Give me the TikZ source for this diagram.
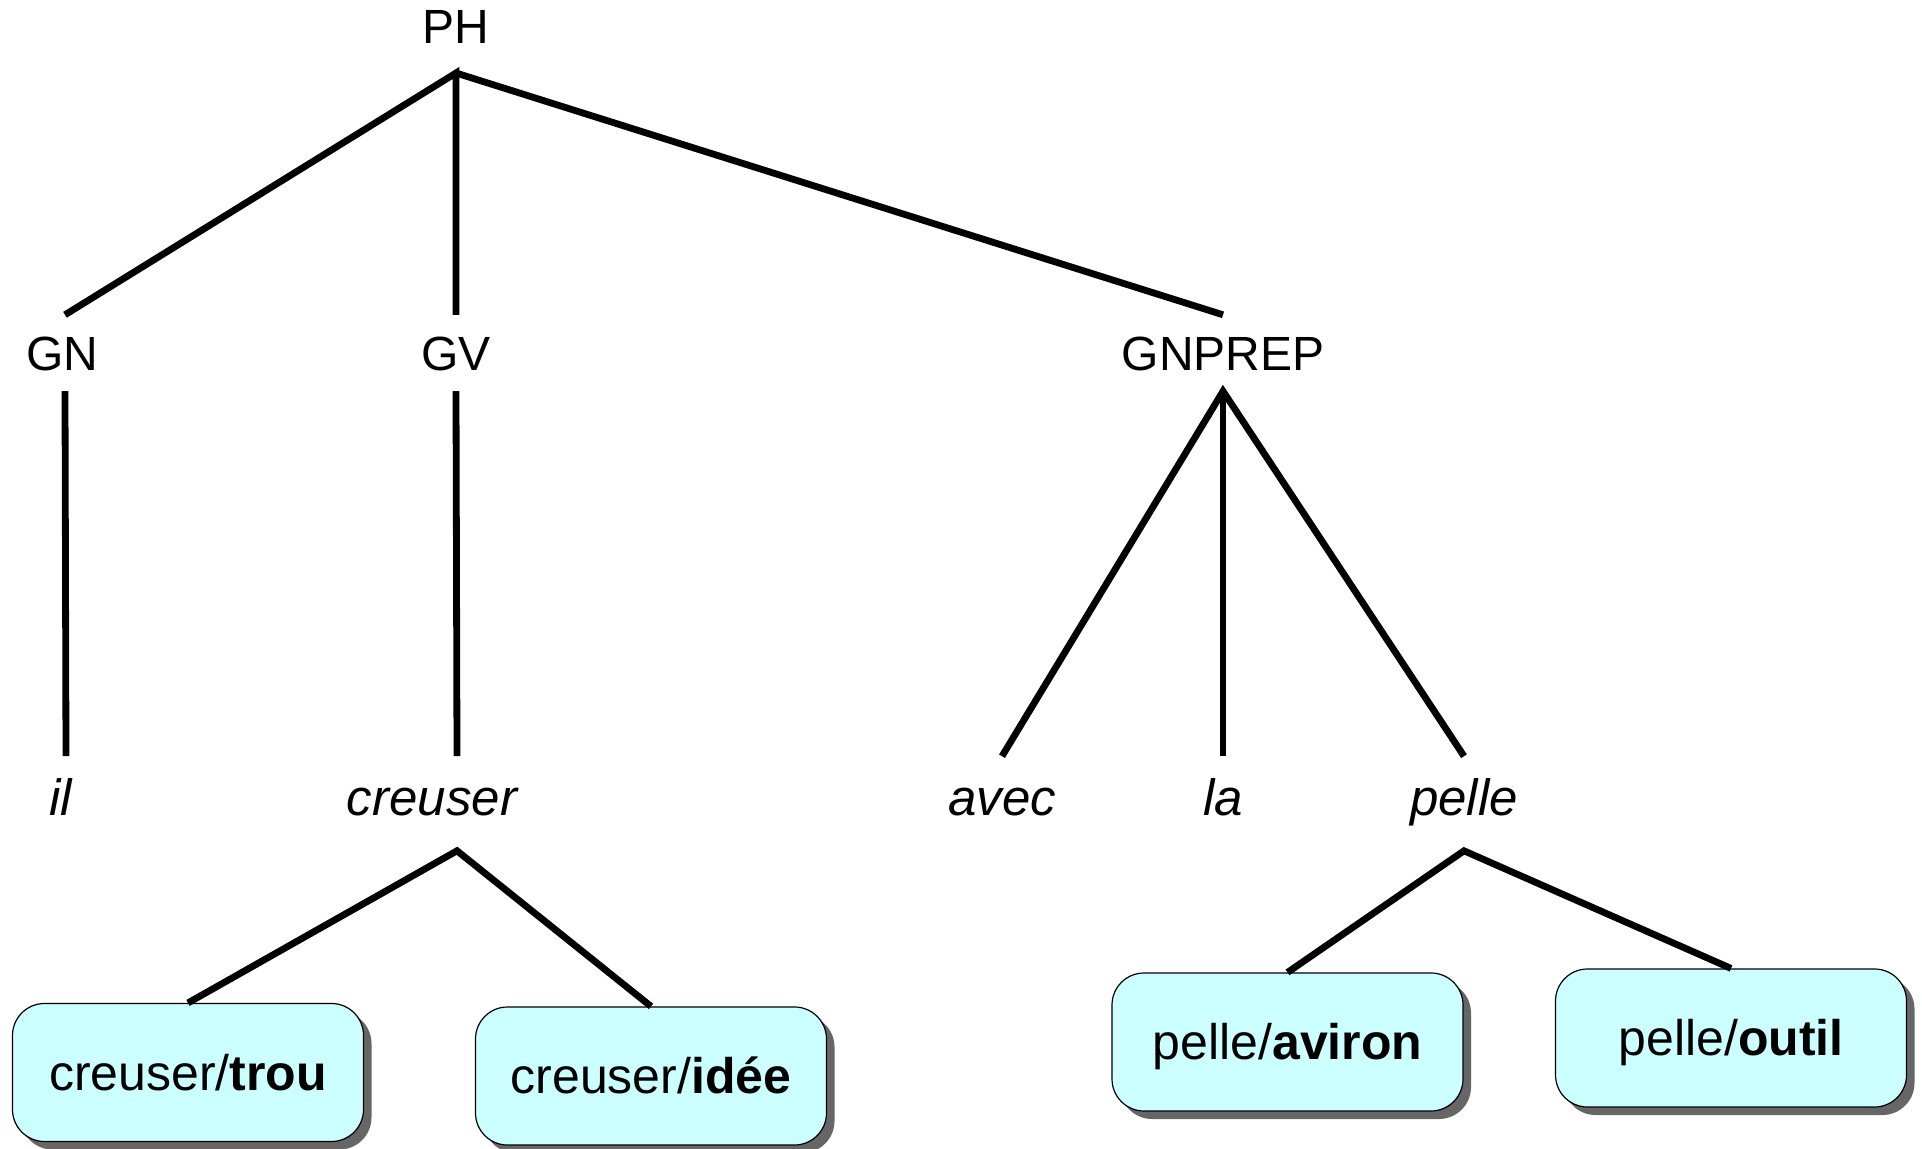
\documentclass[tikz,border=0pt]{standalone}
\usepackage{fontspec}
\setmainfont{Liberation Sans}
\usetikzlibrary{shadows}
\definecolor{senseblue}{HTML}{CCFFFF}
\definecolor{shadowgray}{HTML}{666666}

\begin{document}
\begin{tikzpicture}[
  x=0.5pt, y=-0.5pt,
  cat/.style={font=\fontsize{24}{28}\selectfont, inner sep=0pt, text height=17.2pt, text depth=0pt, outer ysep=10.5pt},
  word/.style={font=\fontsize{25.5}{30}\selectfont\itshape, inner sep=0pt, text height=18.2pt, text depth=0pt, outer ysep=11.3pt},
  sense/.style={draw, line width=0.6pt, fill=senseblue, rounded corners=16pt, minimum width=175.5pt, minimum height=69pt,
    inner sep=0pt, font=\fontsize{25}{30}\selectfont, text height=17.9pt, text depth=0pt,
    drop shadow={shadow xshift=4pt, shadow yshift=-4pt, fill=shadowgray, opacity=1}},
  branch/.style={line width=3.4pt}
]
\useasboundingbox (0,0) rectangle (1922,1149);

% categories
\node[cat, outer ysep=14.9pt] (ph) at (456,26) {PH};
\node[cat] (gn) at (62,353) {GN};
\node[cat] (gv) at (456,353) {GV};
\node[cat] (gnprep) at (1223,353) {GNPREP};

% words
\node[word] (il) at (61,797) {il};
\node[word] (creuser) at (432,797) {creuser};
\node[word] (avec) at (1002,797) {avec};
\node[word] (la) at (1223,797) {la};
\node[word] (pelle) at (1464,797) {pelle};

% senses
\node[sense] (trou) at (188,1072.5) {creuser/\textbf{trou}};
\node[sense] (idee) at (651,1076) {creuser/\textbf{idée}};
\node[sense] (aviron) at (1287.5,1042) {pelle/\textbf{aviron}};
\node[sense] (outil) at (1731,1038) {pelle/\textbf{outil}};

\draw[branch] ([xshift=1.5pt]gn.north) -- (ph.south) -- (gv.north);
\draw[branch] (ph.south) -- (gnprep.north);
\draw[branch] ([xshift=1.5pt]gn.south) -- ([xshift=2.5pt]il.north);
\draw[branch] (gv.south) -- ([xshift=12.5pt]creuser.north);
\draw[branch] (avec.north) -- (gnprep.south) -- (pelle.north);
\draw[branch] (gnprep.south) -- (la.north);
\draw[branch] (trou.north) -- ([xshift=12.5pt,yshift=-6.5pt]creuser.south) -- (idee.north);
\draw[branch] (aviron.north) -- ([yshift=-6.5pt]pelle.south) -- (outil.north);
\end{tikzpicture}
\end{document}
